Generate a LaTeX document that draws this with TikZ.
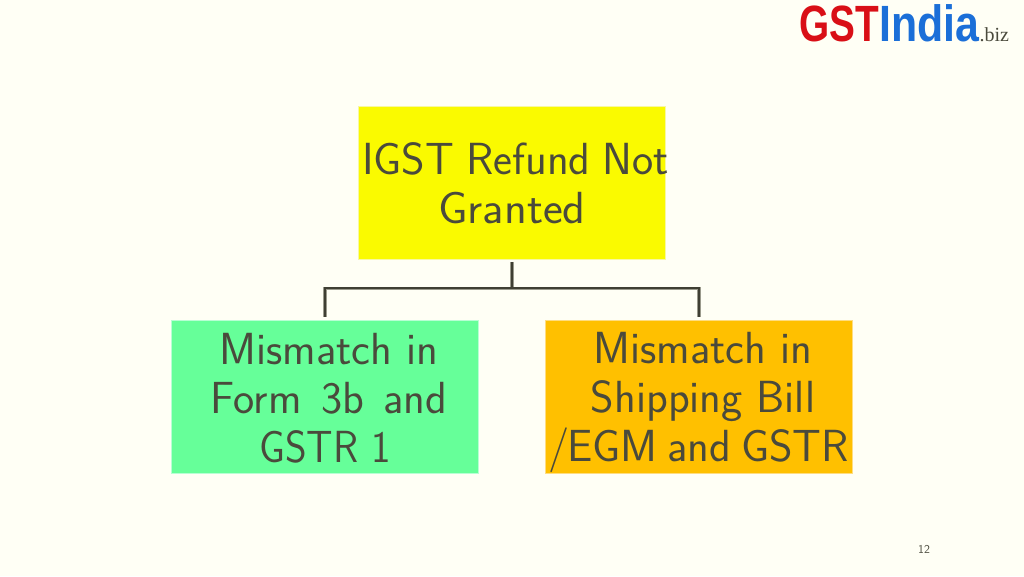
\documentclass[tikz,border=0pt]{standalone}
\usepackage{fontspec}
\setmainfont{Latin Modern Sans}
\newfontfamily\logofont{Liberation Sans}
\newfontfamily\bizfont{Liberation Serif}
\definecolor{pagebg}{HTML}{FFFFF5}
\definecolor{inktext}{HTML}{4A4A3C}
\definecolor{linedark}{HTML}{3F3F33}
\definecolor{linelight}{HTML}{9A9A8C}
\definecolor{topfill}{HTML}{FAFA00}
\definecolor{topedge}{HTML}{F8F8A0}
\definecolor{greenfill}{HTML}{66FF99}
\definecolor{greenedge}{HTML}{B8FFD4}
\definecolor{orangefill}{HTML}{FFC000}
\definecolor{orangeedge}{HTML}{FFDD80}
\definecolor{logored}{HTML}{D90F16}
\definecolor{logoblue}{HTML}{1B6FD8}
\newcommand{\firstline}{\rule{0pt}{43pt}}
\newcommand{\lastline}{\rule[-11pt]{0pt}{11pt}}
\newcommand{\nudge}[1]{\hspace*{#1pt}}
\tikzset{
  box/.style={minimum width=307pt,minimum height=153pt,line width=1.4pt,inner sep=0pt,
    align=center,text=inktext,font=\fontsize{45}{49}\selectfont},
  link/.style={line width=3.4pt,color=linelight,shorten <=2pt,shorten >=2.5pt,line join=miter},
  linkdark/.style={line width=2.3pt,color=linedark,shorten <=2pt,shorten >=2.5pt,line join=miter}
}
\begin{document}
\begin{tikzpicture}[x=1pt,y=-1pt]
\useasboundingbox (0,0) rectangle (1024,576);
\fill[pagebg] (0,0) rectangle (1024,576);
\node[box,fill=topfill,draw=topedge] (top) at (512,183)
  {\firstline\makebox[280pt][c]{\nudge{7}\spaceskip=12pt IGST Refund Not}\\\scalebox{1.05}[1]{Granted}\lastline};
\node[box,fill=greenfill,draw=greenedge] (left) at (325,397)
  {\firstline\nudge{8}Mismatch in\\\nudge{8}{\spaceskip=19.5pt Form 3b and}\\\scalebox{0.92}[1]{GSTR 1}\lastline};
\node[box,fill=orangefill,draw=orangeedge] (right) at (699,397)
  {\firstline\nudge{8}Mismatch in\\\nudge{8}Shipping Bill\\\makebox[280pt][c]{\spaceskip=10pt /\kern-3pt EGM and GSTR}\lastline};
\draw[link] (top.south) -- ++(0,28) -| (left.north);
\draw[link] (top.south) -- ++(0,28) -| (right.north);
\draw[linkdark] (top.south) -- ++(0,28) -| (left.north);
\draw[linkdark] (top.south) -- ++(0,27.5) -| (right.north);
\node[anchor=base west,inner sep=0pt,text=logored] (logoa) at (799,41)
  {\logofont\bfseries\fontsize{51}{51}\selectfont\scalebox{0.76}[1]{GST}};
\node[anchor=base west,inner sep=0pt,text=logoblue] (logob) at (logoa.base east)
  {\logofont\bfseries\fontsize{51}{51}\selectfont\scalebox{0.84}[1]{India}};
\node[anchor=base west,inner sep=0pt,text=inktext] (logoc) at (logob.base east)
  {\bizfont\fontsize{20}{20}\selectfont .biz};
\node[inner sep=0pt,text=inktext,font=\fontsize{12}{12}\selectfont] (pagenum) at (924,549.5) {12};
\end{tikzpicture}
\end{document}
